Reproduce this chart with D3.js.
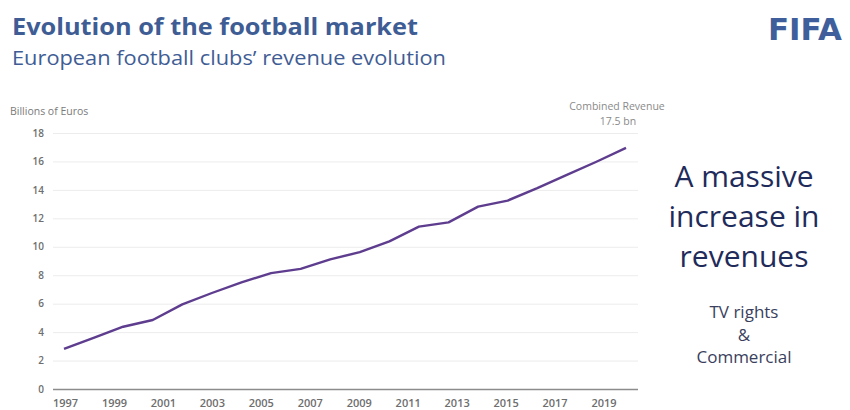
<!DOCTYPE html>
<html>
<head>
<meta charset="utf-8">
<script src="https://cdn.jsdelivr.net/npm/d3@7"></script>
<style>
  body { margin: 0; background: #fff; }
  svg { display: block; font-family: "Open Sans", "Noto Sans", sans-serif; }
</style>
</head>
<body>
<div id="football-chart"></div>
<script>
// seasons plotted on the line (20 points spread over the year axis)
const seasons = ["S1", "S2", "S3", "S4", "S5", "S6", "S7", "S8", "S9", "S10",
  "S11", "S12", "S13", "S14", "S15", "S16", "S17", "S18", "S19", "S20"];
const revenue = [2.82, 3.6, 4.38, 4.85, 5.95, 6.75, 7.5, 8.15, 8.45, 9.12,
  9.62, 10.38, 11.42, 11.72, 12.82, 13.25, 14.12, 15.05, 15.98, 16.95];
const yearTicks = [1997, 1999, 2001, 2003, 2005, 2007, 2009, 2011, 2013, 2015, 2017, 2019];
const yearRange = [1997, 2020];
const valueTicks = [0, 2, 4, 6, 8, 10, 12, 14, 16, 18];

const width = 850, height = 410;
const plot = { left: 53, right: 638, top: 133, bottom: 389 };
const lineStart = 64, lineEnd = 626;

const svg = d3.select("#football-chart")
  .append("svg")
  .attr("width", width)
  .attr("height", height);

// headings
svg.append("text")
  .attr("x", 12).attr("y", 35)
  .attr("textLength", 406).attr("lengthAdjust", "spacingAndGlyphs")
  .style("font-size", "24px").style("font-weight", "700")
  .style("fill", "#3f5d95")
  .text("Evolution of the football market");

svg.append("text")
  .attr("x", 12).attr("y", 65)
  .attr("textLength", 434).attr("lengthAdjust", "spacingAndGlyphs")
  .style("font-size", "20.5px")
  .style("fill", "#3f5d95")
  .text("European football clubs’ revenue evolution");

// FIFA wordmark
svg.append("text")
  .attr("x", 768).attr("y", 40)
  .attr("textLength", 74).attr("lengthAdjust", "spacingAndGlyphs")
  .style("font-family", "'DejaVu Sans', sans-serif")
  .style("font-size", "30px").style("font-weight", "900")
  .style("fill", "#3e5f9b")
  .text("FIFA");

let yScale = d3.scaleLinear().domain([0, 18]).range([plot.bottom, plot.top]);
let xYear = d3.scaleLinear().domain(yearRange).range([lineStart + 1, lineEnd + 2]);
let xSeason = d3.scalePoint().domain(seasons).range([lineStart, lineEnd]);

// gridlines + y labels
let yAxis = d3.axisLeft(yScale)
  .tickValues(valueTicks)
  .tickSize(-(plot.right - plot.left))
  .tickPadding(9)
  .tickFormat(d3.format("d"));

let gy = svg.append("g")
  .attr("transform", `translate(${plot.left},0)`)
  .call(yAxis);
gy.select(".domain").remove();
gy.selectAll(".tick line").attr("stroke", "#ececec").attr("stroke-width", 1);
gy.selectAll(".tick text")
  .style("font-size", "10px").style("font-weight", "600")
  .style("fill", "#6e6e6e").style("font-family", "'Open Sans', sans-serif");
gy.selectAll(".tick").filter(d => d === 0).select("line")
  .attr("stroke", "#8c8c8c").attr("stroke-width", 1.6);

// x labels
let xAxis = d3.axisBottom(xYear).tickValues(yearTicks).tickSize(0).tickPadding(10)
  .tickFormat(d3.format("d"));
let gx = svg.append("g")
  .attr("transform", `translate(0,${plot.bottom})`)
  .call(xAxis);
gx.select(".domain").remove();
gx.selectAll(".tick text")
  .style("font-size", "11px").style("font-weight", "600")
  .style("fill", "#6e6e6e").style("font-family", "'Open Sans', sans-serif");

svg.append("text")
  .attr("x", 10).attr("y", 115)
  .style("font-size", "10.5px").style("fill", "#7a7a7a")
  .text("Billions of Euros");

// revenue line
let line = d3.line()
  .x((d, i) => xSeason(seasons[i]))
  .y(d => yScale(d));

svg.append("path")
  .datum(revenue)
  .attr("fill", "none")
  .attr("stroke", "#5e3d8f")
  .attr("stroke-width", 2.4)
  .attr("stroke-linejoin", "round")
  .attr("d", line);

// end annotation
svg.append("text")
  .attr("x", 617).attr("y", 110)
  .attr("text-anchor", "middle")
  .style("font-size", "10.5px").style("fill", "#8a8a8a")
  .text("Combined Revenue");
svg.append("text")
  .attr("x", 618).attr("y", 125)
  .attr("text-anchor", "middle")
  .style("font-size", "10.5px").style("fill", "#8a8a8a")
  .text("17.5 bn");

// side message
const big = ["A massive", "increase in", "revenues"];
svg.selectAll(".big")
  .data(big)
  .enter().append("text")
  .attr("class", "big")
  .attr("x", 744)
  .attr("y", (d, i) => 187 + i * 40)
  .attr("text-anchor", "middle")
  .style("font-size", "30px")
  .style("fill", "#1f2b5a")
  .text(d => d);

const small = ["TV rights", "&", "Commercial"];
svg.selectAll(".small")
  .data(small)
  .enter().append("text")
  .attr("class", "small")
  .attr("x", 744)
  .attr("y", (d, i) => 318 + i * 22.5)
  .attr("text-anchor", "middle")
  .style("font-size", "17px")
  .style("fill", "#3a3f5e")
  .text(d => d);
</script>
</body>
</html>
